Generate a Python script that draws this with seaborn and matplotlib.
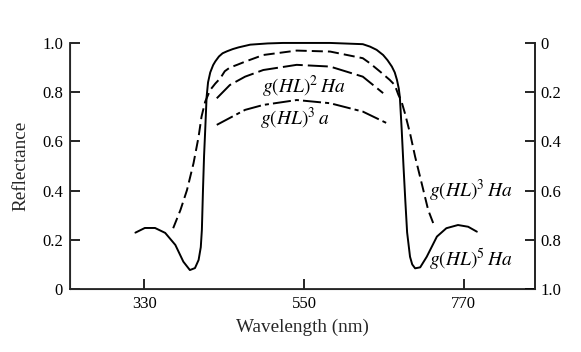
import numpy as np
import seaborn as sns
import matplotlib
matplotlib.use('Agg')
import matplotlib.pyplot as plt

# curves (wavelength in nm, reflectance)
wl_h5 = [318, 331, 345, 359, 373, 384, 393, 400, 405, 408, 409.5, 411, 412.5, 414, 416,
         418, 421, 425, 428, 433, 438, 444, 452, 460, 476, 500, 521, 586, 631, 641, 650,
         659, 665, 671, 675, 678, 680.5, 682, 684.5, 687, 689.5, 692, 696, 699, 703, 710,
         719, 733, 746, 762, 776, 788]
r_h5 = [0.229, 0.248, 0.248, 0.228, 0.179, 0.111, 0.077, 0.085, 0.118, 0.170, 0.240, 0.400,
        0.540, 0.640, 0.780, 0.840, 0.880, 0.910, 0.925, 0.945, 0.958, 0.966, 0.975,
        0.982, 0.993, 0.998, 1.0, 1.0, 0.995, 0.985, 0.972, 0.951, 0.930, 0.904, 0.880,
        0.850, 0.815, 0.780, 0.650, 0.500, 0.360, 0.230, 0.131, 0.100, 0.084, 0.088,
        0.131, 0.213, 0.247, 0.260, 0.253, 0.233]

wl_h3 = [370, 380, 389, 398, 405, 409, 414, 421, 428, 435, 441, 448, 458, 469, 494, 540,
         586, 631, 641, 655, 668, 675, 680, 684, 689, 696, 703, 712, 721, 728]
r_h3 = [0.247, 0.321, 0.402, 0.511, 0.619, 0.700, 0.761, 0.809, 0.835, 0.857, 0.885,
        0.900, 0.911, 0.924, 0.951, 0.969, 0.965, 0.938, 0.917, 0.883, 0.850, 0.829,
        0.789, 0.765, 0.714, 0.633, 0.538, 0.430, 0.321, 0.267]

wl_h2 = [430, 448, 469, 494, 540, 586, 631, 659]
r_h2 = [0.775, 0.829, 0.863, 0.890, 0.911, 0.904, 0.863, 0.796]

wl_a3 = [430, 451, 469, 494, 540, 586, 631, 664]
r_a3 = [0.667, 0.700, 0.728, 0.748, 0.768, 0.755, 0.721, 0.674]

x_ticks = [330, 550, 770]
y_ticks = [0, 0.2, 0.4, 0.6, 0.8, 1.0]
y_labels = ['0', '0.2', '0.4', '0.6', '0.8', '1.0']

sns.set_style('ticks')
plt.rcParams['font.family'] = ['Liberation Serif', 'DejaVu Serif']
plt.rcParams['mathtext.fontset'] = 'stix'

fig = plt.figure(figsize=(5.81, 3.52), dpi=100)
ax = fig.add_axes([0.1205, 0.179, 0.8003, 0.699])

lw = 1.4
sns.lineplot(x=wl_h5, y=r_h5, ax=ax, color='black', lw=lw, clip_on=False)
sns.lineplot(x=wl_h3, y=r_h3, ax=ax, color='black', lw=lw, linestyle=(0, (5.7, 2.6)))
sns.lineplot(x=wl_h2, y=r_h2, ax=ax, color='black', lw=lw, linestyle=(0, (10.3, 2.6)))
sns.lineplot(x=wl_a3, y=r_a3, ax=ax, color='black', lw=lw,
             linestyle=(0, (9.3, 2.1, 2.1, 2.1)))

ax.set_xlim(228, 868)
ax.set_ylim(0, 1.0)
ax.set_xticks(x_ticks)
ax.set_yticks(y_ticks)
ax.set_yticklabels(y_labels)
ax.set_xlabel('Wavelength (nm)', fontsize=13.8, labelpad=5)
ax.set_ylabel('Reflectance', fontsize=13.8, labelpad=9)
ax.tick_params(direction='in', length=7, width=1.2, labelsize=12, pad=5, colors='black')
ax.spines['top'].set_visible(False)
for s in ['left', 'bottom', 'right']:
    ax.spines[s].set_linewidth(1.3)

ax2 = ax.twinx()
ax2.set_ylim(1.0, 0)
ax2.set_yticks(y_ticks)
ax2.set_yticklabels(y_labels)
ax2.tick_params(direction='in', length=7, width=1.2, labelsize=12, pad=4, colors='black')
ax2.spines['top'].set_visible(False)
ax2.spines['right'].set_linewidth(1.3)

lab_kw = dict(fontsize=14, color='black')
ax.text(549, 0.82, r'$g(HL)^2\,Ha$', ha='center', va='center', **lab_kw)
ax.text(490, 0.69, r'$g(HL)^3\,a$', ha='left', va='center', **lab_kw)
ax.text(722, 0.40, r'$g(HL)^3\,Ha$', ha='left', va='center', **lab_kw)
ax.text(722, 0.118, r'$g(HL)^5\,Ha$', ha='left', va='center', **lab_kw)

fig.savefig('out.png', dpi=100)
